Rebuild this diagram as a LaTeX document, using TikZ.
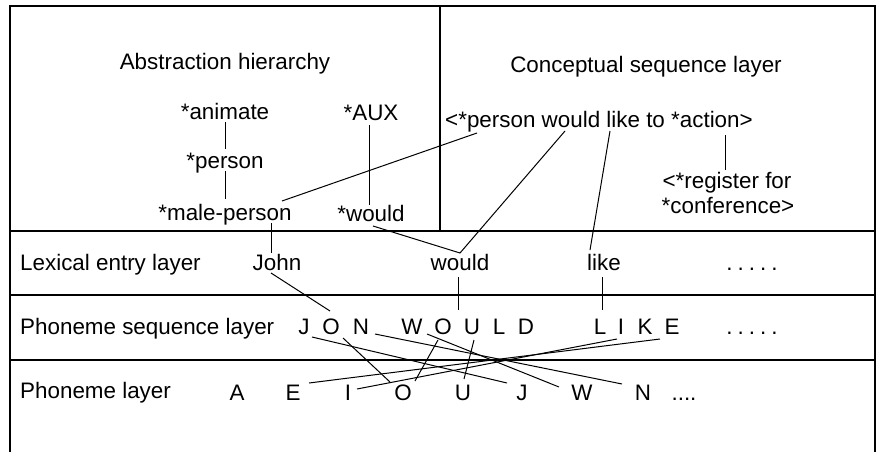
\documentclass[tikz,border=0pt]{standalone}
\usepackage{fontspec}
\setmainfont{Liberation Sans}
\begin{document}
\begin{tikzpicture}[x=1pt,y=-1pt,
  every node/.style={inner sep=0pt, font=\fontsize{22.4}{26}\selectfont},
  lbl/.style={anchor=base west},
  txt/.style={anchor=base},
  frame/.style={line width=1.2pt},
  link/.style={line width=1pt}]
\useasboundingbox (0,0) rectangle (877,452);
% frame
\draw[frame] (10,452) -- (10,6) -- (875,6) -- (875,452);
\draw[frame] (10,231) -- (875,231);
\draw[frame] (10,295) -- (875,295);
\draw[frame] (10,360) -- (875,360);
\draw[frame] (440,6) -- (440,231);
% titles
\node[txt] (abs) at (225,70) {Abstraction hierarchy};
\node[txt] (csl) at (646,72) {Conceptual sequence layer};
% abstraction hierarchy
\node[txt] (anim) at (225,119) {*animate};
\node[txt] (pers) at (225,168) {*person};
\node[txt] (male) at (225,220) {*male-person};
\node[txt] (aux) at (371,120) {*AUX};
\node[txt] (swould) at (371,221) {*would};
\coordinate (anB) at (225,122);
\coordinate (peT) at (225,149);
\coordinate (peB) at (225,171);
\coordinate (maT) at (225,199);
\draw[link] (anB) -- (peT);
\draw[link] (peB) -- (maT);
\coordinate (auB) at (369,125);
\coordinate (woT) at (369,205);
\draw[link] (auB) -- (woT);
% conceptual
\node[txt] (seq) at (599,127) {<*person would like to *action>};
\node[txt] (reg) at (727,188) {<*register for};
\node[txt] (conf) at (728,213) {*conference>};
\coordinate (acB) at (725,135);
\coordinate (reT) at (725,170);
\draw[link] (acB) -- (reT);
% lexical layer
\node[lbl] (lexl) at (20,270) {Lexical entry layer};
\node[txt] (john) at (277,270) {John};
\node[txt] (would) at (460,270) {would};
\node[txt] (like) at (604,270) {like};
\node[txt] (dots1) at (752,270) {.\hspace{5pt}.\hspace{5pt}.\hspace{5pt}.\hspace{5pt}.};
% phoneme sequence layer
\node[lbl] (psl) at (20,334) {Phoneme sequence layer};
\node[txt] (sJ) at (304,334) {J};
\node[txt] (sO) at (331,334) {O};
\node[txt] (sN) at (361,334) {N};
\node[txt] (sW) at (412,334) {W};
\node[txt] (sO2) at (443,334) {O};
\node[txt] (sU) at (472,334) {U};
\node[txt] (sL) at (499,334) {L};
\node[txt] (sD) at (526,334) {D};
\node[txt] (sL2) at (600,334) {L};
\node[txt] (sI) at (621,334) {I};
\node[txt] (sK) at (645,334) {K};
\node[txt] (sE) at (672,334) {E};
\node[txt] (dots2) at (752,334) {.\hspace{5pt}.\hspace{5pt}.\hspace{5pt}.\hspace{5pt}.};
% phoneme layer
\node[lbl] (pl) at (20,398) {Phoneme layer};
\node[txt] (pA) at (237,400) {A};
\node[txt] (pE) at (293,400) {E};
\node[txt] (pI) at (348,400) {I};
\node[txt] (pO) at (403,400) {O};
\node[txt] (pU) at (463,400) {U};
\node[txt] (pJ) at (522,400) {J};
\node[txt] (pW) at (582,400) {W};
\node[txt] (pN) at (643,400) {N};
\node[txt] (pdots) at (684,400) {....};
% links from abstraction to concept
\coordinate (m1) at (282,201);
\coordinate (c1) at (477,133);
\draw[link] (m1) -- (c1);
\coordinate (mB) at (271,223);
\coordinate (jT) at (271,253);
\draw[link] (mB) -- (jT);
\coordinate (swB) at (373,226);
\coordinate (wT) at (460,253);
\coordinate (c2) at (565,131);
\draw[link] (swB) -- (wT) -- (c2);
\coordinate (lT) at (590,250);
\coordinate (c3) at (610,131);
\draw[link] (lT) -- (c3);
% lexical to sequence
\coordinate (jB) at (271,273);
\coordinate (oT) at (330,311);
\draw[link] (jB) -- (oT);
\coordinate (wB) at (458,277);
\coordinate (o2T) at (458,310);
\draw[link] (wB) -- (o2T);
\coordinate (lB) at (602,277);
\coordinate (iT) at (602,310);
\draw[link] (lB) -- (iT);
% sequence to phoneme
\coordinate (a1) at (312,337); \coordinate (b1) at (507,383);
\draw[link] (a1) -- (b1);
\coordinate (a2) at (343,338); \coordinate (b2) at (390,382);
\draw[link] (a2) -- (b2);
\coordinate (a3) at (375,334); \coordinate (b3) at (622,384);
\draw[link] (a3) -- (b3);
\coordinate (a4) at (427,334); \coordinate (b4) at (559,387);
\draw[link] (a4) -- (b4);
\coordinate (a5) at (438,340); \coordinate (b5) at (415,381);
\draw[link] (a5) -- (b5);
\coordinate (a6) at (474,340); \coordinate (b6) at (464,379);
\draw[link] (a6) -- (b6);
\coordinate (a7) at (617,339); \coordinate (b7) at (357,389);
\draw[link] (a7) -- (b7);
\coordinate (a8) at (660,339); \coordinate (b8) at (309,383);
\draw[link] (a8) -- (b8);
\end{tikzpicture}
\end{document}
